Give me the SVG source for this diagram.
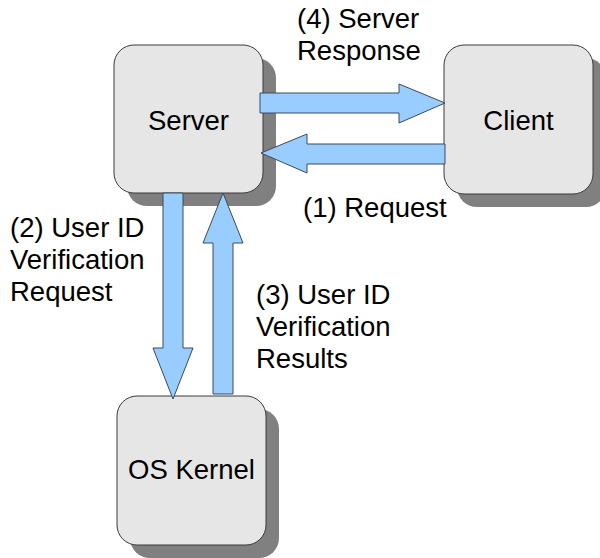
<svg xmlns="http://www.w3.org/2000/svg" width="600" height="558" viewBox="0 0 600 558">
<style>
.shadow{fill:#808080}
.box{fill:#e6e6e6;stroke:#3a3a3a;stroke-width:1}
.arrow{fill:#99ccff;stroke:#3a4a5a;stroke-width:1}
text{font-family:"Liberation Sans",Arial,sans-serif;font-size:27.5px;fill:#000}
</style>
<rect width="600" height="558" fill="#fff"/>
<g id="server">
<rect class="shadow" x="127" y="58" width="149" height="148" rx="20"/>
<rect class="box" x="114" y="45" width="149" height="148" rx="20"/>
<text x="188.5" y="130" text-anchor="middle">Server</text>
</g>
<g id="client">
<rect class="shadow" x="457" y="58" width="149" height="149" rx="20"/>
<rect class="box" x="444" y="45" width="149" height="149" rx="20"/>
<text x="518.5" y="130" text-anchor="middle">Client</text>
</g>
<g id="kernel">
<rect class="shadow" x="130" y="409" width="149" height="149" rx="20"/>
<rect class="box" x="117" y="396" width="149" height="149" rx="20"/>
<text x="191.5" y="479" text-anchor="middle">OS Kernel</text>
</g>
<g id="connectors">
<polygon class="arrow" points="260,93 399,93 399,84 445,103 399,123 399,113 260,113"/>
<polygon class="arrow" points="445,144 307,144 307,134 261,153 307,173 307,164 445,164"/>
<polygon class="arrow" points="163,193 183,193 183,348 193,348 173,399 153,348 163,348"/>
<polygon class="arrow" points="213,394 233,394 233,243 243,243 223,193 203,243 213,243"/>
</g>
<g id="labels">
<text x="297" y="28">(4) Server</text>
<text x="297" y="60">Response</text>
<text x="303" y="217">(1) Request</text>
<text x="10" y="237">(2) User ID</text>
<text x="10" y="269">Verification</text>
<text x="10" y="301">Request</text>
<text x="256" y="304">(3) User ID</text>
<text x="256" y="336">Verification</text>
<text x="256" y="368">Results</text>
</g>
</svg>
